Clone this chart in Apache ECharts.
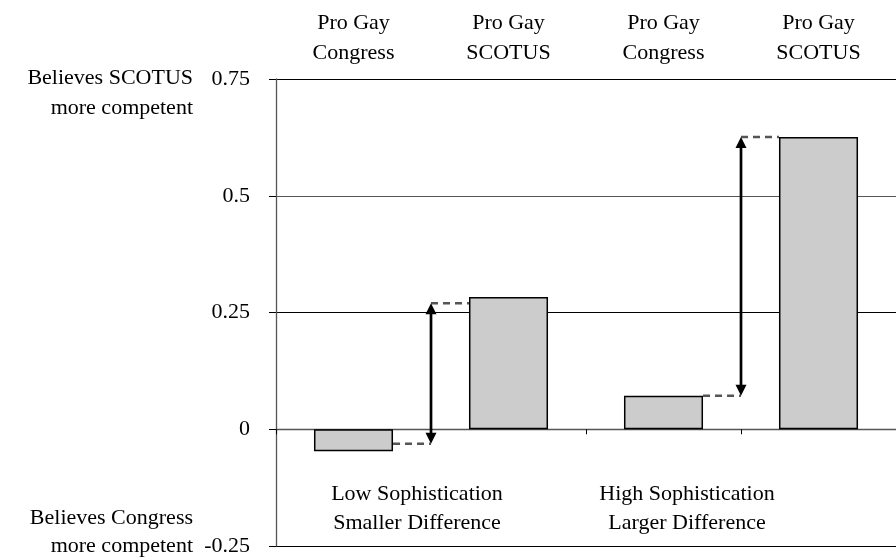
<!DOCTYPE html>
<html>
<head>
<meta charset="utf-8">
<script src="https://cdn.jsdelivr.net/npm/echarts@6/dist/echarts.min.js"></script>
<style>
  html, body { margin: 0; padding: 0; background: #fff; }
  #chart { width: 896px; height: 559px; }
</style>
</head>
<body>
<div id="chart"></div>
<script>
// ---- data ----
const categories = ['Pro Gay\nCongress', 'Pro Gay\nSCOTUS', 'Pro Gay\nCongress', 'Pro Gay\nSCOTUS'];
const values = [-0.047, 0.283, 0.072, 0.626];
const yMin = -0.25;
const yMax = 0.75;
const yStep = 0.25;
// arrows drawn between category i and i+1
const arrowFrom = [0, 2];
const arrowLow = [-0.031, 0.072];
const arrowHigh = [0.270, 0.626];
const groupLabels = ['Low Sophistication\nSmaller Difference', 'High Sophistication\nLarger Difference'];
const topEndLabel = 'Believes SCOTUS\nmore competent';
const bottomEndLabel = 'Believes Congress\nmore competent';

// ---- chart ----
const FONT = 'Liberation Serif';
const FS = 22;
const BAR_FRAC = 0.51;

const chart = echarts.init(document.getElementById('chart'), null, { renderer: 'canvas' });

const arrowData = arrowFrom.map((c, k) => [c, arrowLow[k], arrowHigh[k]]);

function renderArrow(params, api) {
  const i = api.value(0);
  const lo = api.value(1);
  const hi = api.value(2);
  const band = api.size([1, 0])[0];
  const cx = api.coord([i, 0])[0];
  const x = cx + band / 2;
  const yLo = api.coord([i, lo])[1];
  const yHi = api.coord([i, hi])[1];
  const leftEdge = cx + band * BAR_FRAC / 2;
  const rightEdge = cx + band - band * BAR_FRAC / 2;
  const hw = 5.5, hl = 11;
  const dash = { stroke: '#555', lineWidth: 2.5, lineDash: [7, 5] };
  return {
    type: 'group',
    children: [
      { type: 'line', shape: { x1: leftEdge, y1: yLo, x2: x, y2: yLo }, style: dash },
      { type: 'line', shape: { x1: x, y1: yHi, x2: rightEdge, y2: yHi }, style: dash },
      { type: 'line', shape: { x1: x, y1: yHi + hl - 1, x2: x, y2: yLo - hl + 1 }, style: { stroke: '#000', lineWidth: 2.7 } },
      { type: 'polygon', shape: { points: [[x, yHi], [x - hw, yHi + hl], [x + hw, yHi + hl]] }, style: { fill: '#000' } },
      { type: 'polygon', shape: { points: [[x, yLo], [x - hw, yLo - hl], [x + hw, yLo - hl]] }, style: { fill: '#000' } }
    ]
  };
}

const textStyleBase = { fontFamily: FONT, fontSize: FS, fill: '#000' };

const option = {
  animation: false,
  backgroundColor: '#fff',
  grid: { left: 276, top: 79, width: 622, height: 467, containLabel: false },
  xAxis: [
    {
      type: 'category',
      data: categories,
      position: 'bottom',
      axisLine: { show: true, onZero: true, lineStyle: { color: '#555', width: 1.3 } },
      axisTick: { show: true, length: 5, interval: 0, lineStyle: { color: '#000', width: 1 } },
      axisLabel: { show: false },
      splitLine: { show: false }
    },
    {
      type: 'category',
      data: categories,
      position: 'top',
      axisLine: { show: false },
      axisTick: { show: false },
      axisLabel: {
        show: true, interval: 0, margin: 11,
        fontFamily: FONT, fontSize: FS, color: '#000', lineHeight: 30, align: 'center'
      },
      splitLine: { show: false }
    }
  ],
  yAxis: {
    type: 'value',
    min: yMin,
    max: yMax,
    interval: yStep,
    axisLine: { show: true, lineStyle: { color: '#555', width: 1.3 } },
    axisTick: { show: true, length: 7, inside: false, lineStyle: { color: '#000', width: 1 } },
    axisLabel: {
      margin: 26, fontFamily: FONT, fontSize: FS, color: '#000',
      formatter: v => String(Math.round(v * 100) / 100)
    },
    splitLine: {
      show: true,
      lineStyle: { color: ['#000', '#555', '#000', '#555', '#000'], width: 1 }
    }
  },
  series: [
    {
      type: 'bar',
      xAxisIndex: 0,
      data: values,
      barWidth: (BAR_FRAC * 100) + '%',
      itemStyle: { color: '#cccccc', borderColor: '#000', borderWidth: 1.5 },
      z: 2
    },
    {
      type: 'custom',
      xAxisIndex: 0,
      renderItem: renderArrow,
      data: arrowData,
      encode: { x: 0, y: [1, 2] },
      clip: false,
      z: 3
    }
  ],
  graphic: [
    {
      type: 'text', x: 193, y: 63,
      style: Object.assign({ text: topEndLabel, align: 'right', verticalAlign: 'top', lineHeight: 30 }, textStyleBase)
    },
    {
      type: 'text', x: 193, y: 504,
      style: Object.assign({ text: bottomEndLabel, align: 'right', verticalAlign: 'top', lineHeight: 28 }, textStyleBase)
    },
    {
      type: 'text', x: 417, y: 480,
      style: Object.assign({ text: groupLabels[0], align: 'center', verticalAlign: 'top', lineHeight: 29 }, textStyleBase)
    },
    {
      type: 'text', x: 687, y: 480,
      style: Object.assign({ text: groupLabels[1], align: 'center', verticalAlign: 'top', lineHeight: 29 }, textStyleBase)
    }
  ]
};

chart.setOption(option);
</script>
</body>
</html>
